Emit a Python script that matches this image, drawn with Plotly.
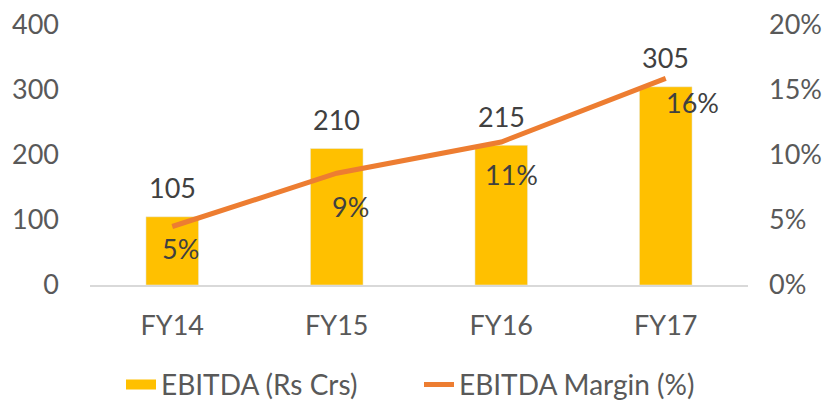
import plotly.graph_objects as go

# Data
years = ["FY14", "FY15", "FY16", "FY17"]
ebitda = [105, 210, 215, 305]
margin = [0.045, 0.086, 0.110, 0.159]
margin_labels = ["5%", "9%", "11%", "16%"]

_BAR = "#FFC000"
_LINE = "#ED7D31"
_TEXT = "#404040"
_FONT = "Lato"
_SIZE = 27

# label offsets (px) for the margin labels, as placed in the source chart
_MARGIN_SHIFT = [(8, -22), (14, -33), (10, -32), (27, -24)]

fig = go.Figure()
fig.add_trace(
    go.Bar(
        x=years,
        y=ebitda,
        name="EBITDA (Rs Crs)",
        marker_color=_BAR,
        width=0.32,
        showlegend=False,
    )
)
# legend-only stand-in so the bar swatch is a wide block like the source
fig.add_trace(
    go.Scatter(
        x=[None],
        y=[None],
        name="EBITDA (Rs Crs)",
        mode="lines",
        line={"color": _BAR, "width": 14},
        hoverinfo="skip",
    )
)
fig.add_trace(
    go.Scatter(
        x=years,
        y=margin,
        name="EBITDA Margin (%)",
        mode="lines",
        line={"color": _LINE, "width": 5},
        yaxis="y2",
    )
)

annotations = []
for yr, val in zip(years, ebitda):
    annotations.append(
        dict(x=yr, y=val, xref="x", yref="y", text=str(val), showarrow=False,
             yshift=29, font={"size": _SIZE, "color": _TEXT, "family": _FONT})
    )
for yr, val, lab, (dx, dy) in zip(years, margin, margin_labels, _MARGIN_SHIFT):
    annotations.append(
        dict(x=yr, y=val, xref="x", yref="y2", text=lab, showarrow=False,
             xshift=dx, yshift=dy, font={"size": _SIZE, "color": _TEXT, "family": _FONT})
    )

fig.update_layout(
    width=832,
    height=403,
    margin={"l": 82, "r": 92, "t": 17, "b": 126},
    plot_bgcolor="white",
    paper_bgcolor="white",
    font={"family": _FONT, "size": _SIZE, "color": "#595959"},
    showlegend=True,
    legend={
        "orientation": "h",
        "x": 0.5,
        "xanchor": "center",
        "yref": "container",
        "y": 0.065,
        "yanchor": "middle",
        "entrywidth": 253,
        "font": {"size": 28, "color": "#595959"},
        "traceorder": "normal",
    },
    xaxis={
        "showgrid": False,
        "showline": True,
        "linecolor": "#D9D9D9",
        "linewidth": 1.5,
        "ticks": "",
        "ticklabelstandoff": 16,
        "automargin": False,
    },
    yaxis={
        "range": [0, 400],
        "dtick": 100,
        "showgrid": False,
        "zeroline": False,
        "ticklabelstandoff": 30,
        "ticklabeloverflow": "allow",
        "automargin": False,
    },
    yaxis2={
        "range": [0, 0.2],
        "dtick": 0.05,
        "tickformat": ".0%",
        "overlaying": "y",
        "side": "right",
        "showgrid": False,
        "zeroline": False,
        "ticklabelstandoff": 20,
        "ticklabeloverflow": "allow",
        "automargin": False,
    },
    annotations=annotations,
)

fig.write_html("out.html")
